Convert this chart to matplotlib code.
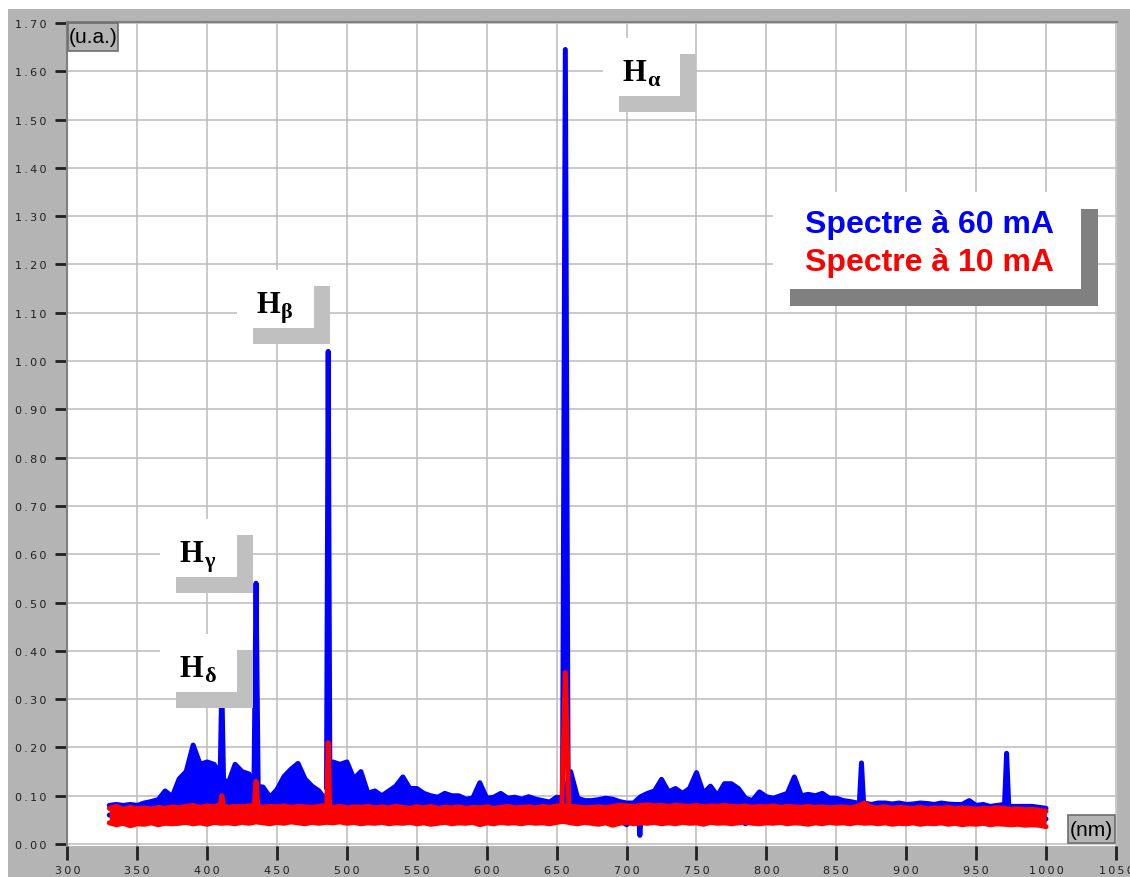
import numpy as np
import matplotlib
matplotlib.use('Agg')
import matplotlib.pyplot as plt
from matplotlib.patches import Rectangle
from matplotlib.ticker import FuncFormatter

# sampled wavelengths (nm), every 5 nm
wl = np.arange(330, 1001, 5)

# 60 mA spectrum: upper / lower envelope of the noisy trace
blue_hi = [0.080, 0.082, 0.080, 0.082, 0.080, 0.085, 0.088, 0.092, 0.110, 0.098,
           0.135, 0.150, 0.205, 0.165, 0.170, 0.165, 0.140, 0.125, 0.165, 0.150,
           0.145, 0.120, 0.118, 0.097, 0.113, 0.140, 0.155, 0.167, 0.135, 0.120,
           0.110, 0.090, 0.170, 0.165, 0.170, 0.135, 0.150, 0.105, 0.110, 0.100,
           0.110, 0.120, 0.139, 0.115, 0.115, 0.105, 0.100, 0.097, 0.105, 0.100,
           0.100, 0.093, 0.095, 0.127, 0.095, 0.097, 0.105, 0.095, 0.097, 0.093,
           0.098, 0.093, 0.090, 0.087, 0.097, 0.095, 0.150, 0.095, 0.090, 0.090,
           0.092, 0.095, 0.093, 0.088, 0.085, 0.085, 0.098, 0.105, 0.110, 0.134,
           0.108, 0.115, 0.105, 0.115, 0.148, 0.105, 0.120, 0.100, 0.125, 0.125,
           0.115, 0.095, 0.090, 0.108, 0.098, 0.095, 0.100, 0.105, 0.139, 0.100,
           0.103, 0.100, 0.105, 0.095, 0.095, 0.090, 0.088, 0.085, 0.085, 0.082,
           0.085, 0.085, 0.083, 0.085, 0.082, 0.083, 0.085, 0.084, 0.082, 0.085,
           0.083, 0.082, 0.082, 0.090, 0.080, 0.082, 0.078, 0.080, 0.082, 0.078,
           0.078, 0.078, 0.078, 0.076, 0.074]
blue_lo = [0.060, 0.058, 0.060, 0.057, 0.059, 0.060, 0.058, 0.060, 0.061, 0.059,
           0.060, 0.062, 0.060, 0.061, 0.059, 0.062, 0.060, 0.061, 0.059, 0.060,
           0.061, 0.060, 0.062, 0.059, 0.060, 0.061, 0.060, 0.062, 0.059, 0.060,
           0.061, 0.060, 0.059, 0.061, 0.060, 0.059, 0.060, 0.058, 0.060, 0.059,
           0.058, 0.060, 0.059, 0.058, 0.060, 0.059, 0.057, 0.059, 0.058, 0.060,
           0.058, 0.059, 0.057, 0.059, 0.058, 0.060, 0.058, 0.057, 0.059, 0.058,
           0.059, 0.057, 0.058, 0.059, 0.058, 0.060, 0.061, 0.058, 0.059, 0.057,
           0.058, 0.056, 0.055, 0.050, 0.040, 0.052, 0.056, 0.058, 0.059, 0.060,
           0.059, 0.060, 0.058, 0.059, 0.060, 0.058, 0.059, 0.058, 0.057, 0.056,
           0.052, 0.042, 0.055, 0.057, 0.058, 0.059, 0.058, 0.057, 0.059, 0.058,
           0.057, 0.058, 0.059, 0.057, 0.058, 0.057, 0.058, 0.057, 0.059, 0.057,
           0.058, 0.057, 0.056, 0.058, 0.057, 0.056, 0.058, 0.057, 0.056, 0.057,
           0.056, 0.057, 0.055, 0.056, 0.057, 0.055, 0.056, 0.055, 0.056, 0.055,
           0.054, 0.055, 0.054, 0.053, 0.052]

# 10 mA spectrum
red_hi = [0.074, 0.078, 0.072, 0.076, 0.073, 0.075, 0.072, 0.076, 0.074, 0.077,
          0.075, 0.078, 0.080, 0.076, 0.079, 0.077, 0.082, 0.076, 0.078, 0.077,
          0.079, 0.080, 0.076, 0.078, 0.077, 0.079, 0.076, 0.078, 0.077, 0.076,
          0.078, 0.080, 0.076, 0.078, 0.075, 0.077, 0.076, 0.078, 0.075, 0.077,
          0.075, 0.078, 0.076, 0.074, 0.077, 0.075, 0.078, 0.074, 0.076, 0.075,
          0.077, 0.074, 0.076, 0.075, 0.077, 0.074, 0.076, 0.078, 0.075, 0.076,
          0.077, 0.075, 0.078, 0.076, 0.079, 0.080, 0.078, 0.077, 0.075, 0.076,
          0.077, 0.075, 0.078, 0.080, 0.079, 0.078, 0.080, 0.081, 0.079, 0.080,
          0.078, 0.080, 0.079, 0.078, 0.080, 0.077, 0.079, 0.078, 0.080, 0.078,
          0.077, 0.079, 0.076, 0.078, 0.077, 0.079, 0.076, 0.078, 0.077, 0.076,
          0.078, 0.076, 0.077, 0.075, 0.076, 0.077, 0.075, 0.078, 0.085, 0.076,
          0.075, 0.077, 0.074, 0.076, 0.075, 0.074, 0.076, 0.073, 0.075, 0.074,
          0.076, 0.073, 0.075, 0.074, 0.072, 0.074, 0.073, 0.075, 0.074, 0.072,
          0.073, 0.071, 0.072, 0.070, 0.068]
red_lo = [0.044, 0.040, 0.043, 0.038, 0.042, 0.041, 0.044, 0.040, 0.043, 0.042,
          0.043, 0.045, 0.042, 0.044, 0.041, 0.045, 0.043, 0.044, 0.042, 0.045,
          0.043, 0.046, 0.044, 0.042, 0.045, 0.043, 0.046, 0.044, 0.042, 0.045,
          0.043, 0.045, 0.044, 0.046, 0.043, 0.045, 0.042, 0.044, 0.043, 0.045,
          0.042, 0.044, 0.043, 0.045, 0.042, 0.044, 0.041, 0.043, 0.045, 0.042,
          0.044, 0.043, 0.045, 0.040, 0.044, 0.042, 0.045, 0.043, 0.044, 0.042,
          0.045, 0.043, 0.044, 0.042, 0.045, 0.047, 0.044, 0.042, 0.045, 0.043,
          0.041, 0.044, 0.039, 0.043, 0.045, 0.042, 0.044, 0.043, 0.045, 0.042,
          0.044, 0.042, 0.045, 0.043, 0.044, 0.041, 0.045, 0.043, 0.044, 0.042,
          0.044, 0.045, 0.043, 0.042, 0.044, 0.043, 0.045, 0.042, 0.044, 0.043,
          0.041, 0.044, 0.042, 0.045, 0.043, 0.044, 0.042, 0.045, 0.043, 0.044,
          0.042, 0.044, 0.041, 0.043, 0.042, 0.044, 0.041, 0.043, 0.042, 0.044,
          0.041, 0.043, 0.040, 0.042, 0.041, 0.043, 0.040, 0.042, 0.041, 0.040,
          0.041, 0.039, 0.040, 0.039, 0.036]

# narrow lines (centre nm, peak value, half width nm)
blue_line_nm = [410.5, 435.0, 486.6, 656.2, 709.5, 868.0, 971.8]
blue_line_peak = [0.33, 0.54, 1.02, 1.645, 0.018, 0.168, 0.188]
blue_line_hw = [1.2, 1.5, 1.2, 2.0, 0.8, 1.5, 1.5]
red_line_nm = [410.5, 435.0, 486.6, 656.2]
red_line_peak = [0.10, 0.13, 0.21, 0.355]
red_line_hw = [1.0, 1.2, 1.0, 2.5]

# Balmer labels: box left (nm), box top (u.a.)
balmer_greek = ['α', 'β', 'γ', 'δ']
balmer_box_x = [683.2, 421.4, 366.3, 366.3]
balmer_box_y = [1.669, 1.188, 0.673, 0.435]

legend_labels = ['Spectre à 60 mA', 'Spectre à 10 mA']
series_colors = ['#0000ff', '#ff0000']

x_ticks = np.arange(300, 1051, 50)
y_ticks = np.arange(0, 1.701, 0.1)


def spaced(s):
    return '\u2009'.join(s)


def shadow_box(ax, x0, top, w, h, dx, dy, shade):
    ax.add_patch(Rectangle((x0 + dx, top - h - dy), w, h, facecolor=shade,
                           edgecolor='none', zorder=5))
    ax.add_patch(Rectangle((x0, top - h), w, h, facecolor='white',
                           edgecolor='none', zorder=6))


def draw_series(ax, hi, lo, line_nm, line_peak, line_hw, color):
    ax.fill_between(wl, lo, hi, color=color, lw=0, zorder=2)
    for env in (hi, lo):
        ax.plot(wl, env, color=color, lw=3.6, solid_capstyle='round',
                solid_joinstyle='round', zorder=2)
    for c, p, w in zip(line_nm, line_peak, line_hw):
        base = np.interp(c, wl, hi) if p > 0.05 else np.interp(c, wl, lo)
        ax.plot([c - w, c, c + w], [base, p, base], color=color, lw=3.6,
                solid_capstyle='round', solid_joinstyle='round', zorder=2)


fig = plt.figure(figsize=(11.3, 8.78), dpi=100, facecolor='white')
frame = Rectangle((8 / 1130, 0), 1, 1 - 10 / 878, transform=fig.transFigure,
                  facecolor='#b4b4b4', edgecolor='none', zorder=-5)
fig.add_artist(frame)
ax = fig.add_axes([67.3 / 1130, 1 - 847 / 878, 1049.2 / 1130, 824.5 / 878])
ax.set_zorder(2)
ax.set_facecolor('white')

draw_series(ax, blue_hi, blue_lo, blue_line_nm, blue_line_peak, blue_line_hw, series_colors[0])
draw_series(ax, red_hi, red_lo, red_line_nm, red_line_peak, red_line_hw, series_colors[1])

ax.set_xlim(300, 1050.4)
ax.set_ylim(-0.004, 1.703)
ax.set_xticks(x_ticks)
ax.set_yticks(y_ticks)
ax.xaxis.set_major_formatter(FuncFormatter(lambda v, p: spaced('%d' % round(v))))
ax.yaxis.set_major_formatter(FuncFormatter(lambda v, p: spaced('%.2f' % v)))
ax.tick_params(axis='y', direction='out', length=9, width=2, color='#202020',
               pad=6, labelsize=8, labelcolor='#202020')
ax.tick_params(axis='x', direction='out', length=10, width=2, color='#202020',
               pad=4, labelsize=8, labelcolor='#202020')
ax.grid(True, color='#c0c0c0', lw=1.2)
ax.set_axisbelow(True)
for side in ('bottom', 'right'):
    ax.spines[side].set_visible(False)
for side in ('left', 'top'):
    ax.spines[side].set_color('#808080')
    ax.spines[side].set_linewidth(1.5)

# Balmer line labels
for g, bx, by in zip(balmer_greek, balmer_box_x, balmer_box_y):
    shadow_box(ax, bx, by, 55.1, 0.120, 11.45, 0.0331, '#c0c0c0')
    ax.text(bx + 13.6, by - 0.087, 'H', family='Liberation Serif', weight='bold',
            fontsize=22, va='baseline', ha='left', zorder=7)
    ax.text(bx + 31.5, by - 0.097, g, family='Liberation Serif', weight='bold',
            fontsize=16, va='baseline', ha='left', zorder=7)

# legend box
shadow_box(ax, 804.8, 1.350, 220.3, 0.201, 12.2, 0.035, '#808080')
for i, (lab, col) in enumerate(zip(legend_labels, series_colors)):
    ax.text(827.6, 1.267 - 0.079 * i, lab, color=col, family='Liberation Sans',
            weight='bold', fontsize=23, va='baseline', ha='left', zorder=7)

# unit tags
ax.add_patch(Rectangle((300.3, 1.642), 36.0, 0.058, facecolor='#b4b4b4',
                       edgecolor='#6e6e6e', lw=1.2, zorder=7))
ax.text(318.3, 1.671, '(u.a.)', family='Liberation Sans', fontsize=15,
        ha='center', va='center', zorder=8)
ax.add_patch(Rectangle((1015.8, 0.002), 33.6, 0.058, facecolor='#b4b4b4',
                       edgecolor='#6e6e6e', lw=1.2, zorder=7))
ax.text(1032.6, 0.031, '(nm)', family='Liberation Sans', fontsize=15,
        ha='center', va='center', zorder=8)

fig.savefig('out.png', dpi=100, facecolor=fig.get_facecolor())
